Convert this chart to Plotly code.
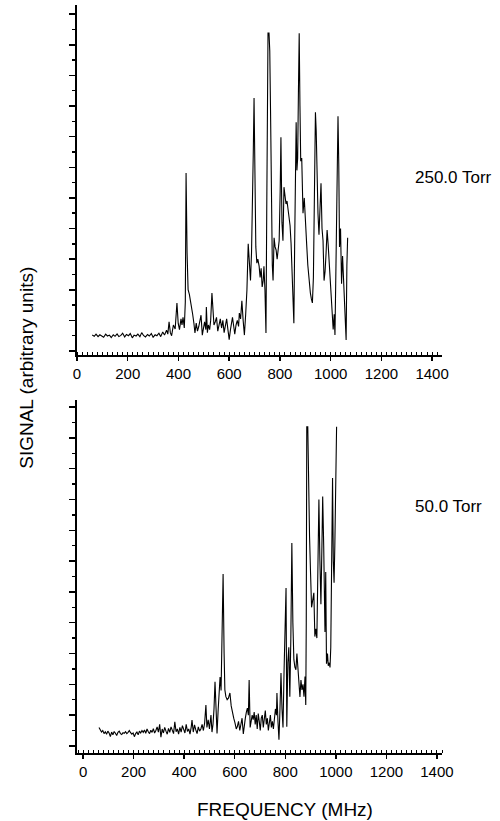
import plotly.graph_objects as go

# ---- Top panel: 250.0 Torr ----
freq_250 = [60, 68, 75, 83, 90, 98, 105, 113, 120, 128, 135, 143, 150, 158, 165, 173, 180, 188, 195, 203,
            210, 218, 225, 233, 240, 248, 255, 263, 270, 278, 285, 293, 300, 308, 315, 323, 330, 338, 345, 353,
            358, 363, 368, 373, 380, 387, 394, 399, 404, 410, 414, 418, 423, 427, 430, 434, 438, 443, 447, 451,
            456, 461, 465, 470, 475, 480, 485, 489, 494, 498, 503, 508, 510, 514, 518, 523, 527, 532, 536, 540,
            545, 550, 555, 560, 565, 570, 575, 580, 585, 590, 595, 600, 605, 610, 613, 618, 622, 627, 632, 637,
            640, 645, 650, 655, 660, 665, 670, 675, 680, 684, 688, 692, 695, 698, 701, 705, 709, 713, 718, 722,
            726, 730, 734, 737, 741, 745, 748, 751, 753, 757, 760, 763, 766, 770, 773, 777, 781, 785, 789, 793,
            797, 801, 804, 808, 812, 816, 820, 824, 828, 832, 836, 840, 844, 848, 852, 855, 858, 861, 864, 867,
            870, 873, 876, 879, 882, 886, 891, 896, 901, 906, 910, 914, 917, 920, 924, 928, 932, 936, 940, 943,
            946, 950, 954, 958, 962, 966, 970, 974, 978, 982, 986, 990, 994, 998, 1002, 1006, 1010, 1014, 1017, 1021,
            1025, 1029, 1032, 1035, 1039, 1043, 1047, 1050, 1054, 1058, 1061, 1064, 1067]
signal_250 = [0.52, 0.48, 0.55, 0.47, 0.53, 0.50, 0.45, 0.55, 0.49, 0.52, 0.44, 0.53, 0.48, 0.56, 0.47, 0.51, 0.58, 0.46, 0.54, 0.50,
              0.57, 0.43, 0.52, 0.49, 0.55, 0.47, 0.60, 0.50, 0.46, 0.54, 0.49, 0.57, 0.45, 0.53, 0.50, 0.58, 0.47, 0.62, 0.52, 0.68,
              0.55, 0.95, 0.60, 0.50, 0.85, 0.72, 1.57, 0.90, 0.70, 1.05, 0.85, 1.10, 0.75, 1.60, 5.81, 3.20, 2.00, 1.85, 1.65, 1.57,
              1.20, 0.90, 0.59, 0.91, 0.65, 0.80, 1.05, 1.17, 0.52, 0.75, 0.95, 0.70, 1.44, 0.60, 0.85, 0.70, 1.00, 1.89, 1.10, 0.85,
              0.95, 1.10, 0.65, 0.90, 1.05, 0.75, 1.00, 0.60, 0.85, 1.05, 0.70, 0.37, 0.70, 0.95, 1.10, 0.80, 0.55, 0.85, 1.00, 0.80,
              1.24, 1.05, 1.64, 1.00, 0.52, 1.20, 2.00, 3.50, 2.80, 2.30, 3.20, 4.60, 6.50, 8.26, 5.80, 3.40, 2.87, 3.00, 2.77, 2.40,
              2.70, 2.09, 2.30, 2.77, 2.00, 0.59, 4.50, 9.20, 10.38, 10.38, 9.80, 7.87, 4.50, 2.80, 2.30, 3.70, 3.40, 3.30, 3.00, 3.40,
              3.60, 5.20, 6.98, 4.20, 3.60, 5.35, 5.00, 4.80, 4.90, 4.60, 4.30, 4.10, 3.50, 2.60, 1.76, 0.91, 3.40, 5.80, 7.47, 5.90,
              6.30, 8.50, 10.38, 8.00, 6.20, 6.30, 4.50, 5.00, 3.90, 3.40, 2.80, 2.40, 2.00, 1.90, 1.70, 1.57, 2.40, 4.80, 7.80, 7.20,
              5.50, 4.50, 3.80, 4.60, 5.48, 4.00, 3.60, 2.30, 2.60, 3.20, 3.95, 3.50, 2.90, 2.40, 1.66, 1.20, 0.70, 1.20, 0.52, 2.80,
              5.60, 7.67, 6.10, 3.40, 4.00, 2.20, 3.10, 2.50, 1.90, 1.10, 0.36, 2.80, 3.70]

# ---- Bottom panel: 50.0 Torr ----
freq_50 = [63, 68, 73, 78, 83, 88, 93, 98, 103, 108, 113, 118, 123, 128, 133, 138, 143, 148, 153, 158,
           163, 168, 173, 178, 183, 188, 193, 198, 203, 208, 213, 218, 223, 228, 233, 238, 243, 248, 253, 258,
           263, 268, 273, 278, 283, 288, 293, 298, 303, 308, 313, 318, 323, 328, 333, 338, 343, 348, 353, 358,
           363, 368, 373, 378, 383, 388, 393, 398, 403, 408, 413, 418, 423, 428, 431, 436, 441, 446, 451, 456,
           461, 466, 471, 476, 481, 486, 490, 495, 500, 506, 510, 514, 518, 522, 526, 530, 534, 538, 542, 546,
           550, 554, 558, 561, 565, 570, 575, 581, 586, 591, 596, 601, 606, 610, 615, 620, 624, 629, 634, 638,
           642, 646, 650, 654, 657, 661, 665, 669, 673, 677, 681, 685, 689, 693, 697, 701, 705, 709, 713, 717,
           721, 725, 729, 733, 737, 741, 745, 749, 753, 757, 761, 765, 767, 771, 775, 779, 783, 787, 791, 795,
           799, 803, 806, 810, 814, 818, 822, 824, 826, 830, 834, 838, 842, 846, 850, 854, 858, 862, 866, 870,
           874, 878, 881, 883, 885, 889, 892, 896, 900, 904, 908, 913, 917, 921, 925, 929, 933, 937, 941, 945,
           948, 952, 955, 957, 960, 963, 967, 970, 974, 977, 980, 983, 987, 990, 993, 996, 999, 1003]
signal_50 = [0.60, 0.52, 0.45, 0.50, 0.40, 0.46, 0.38, 0.48, 0.42, 0.30, 0.45, 0.36, 0.47, 0.41, 0.34, 0.44, 0.48, 0.40, 0.37, 0.43,
             0.41, 0.46, 0.40, 0.44, 0.50, 0.43, 0.38, 0.42, 0.30, 0.40, 0.45, 0.36, 0.48, 0.42, 0.50, 0.44, 0.52, 0.41, 0.55, 0.46,
             0.40, 0.51, 0.44, 0.56, 0.42, 0.50, 0.62, 0.45, 0.70, 0.28, 0.55, 0.42, 0.60, 0.48, 0.38, 0.57, 0.44, 0.62, 0.50, 0.40,
             0.78, 0.46, 0.55, 0.38, 0.60, 0.45, 0.66, 0.50, 0.42, 0.70, 0.47, 0.55, 0.38, 0.62, 0.84, 0.45, 0.68, 0.52, 0.40, 0.62,
             0.48, 0.55, 0.70, 0.50, 0.75, 1.33, 0.60, 0.85, 0.55, 1.00, 0.45, 0.70, 1.20, 2.08, 0.80, 0.40, 1.10, 1.60, 2.24, 1.80,
             3.20, 5.58, 3.00, 1.82, 1.60, 1.50, 1.55, 1.72, 1.30, 1.05, 0.90, 0.75, 0.55, 0.62, 0.80, 0.50, 0.65, 0.90, 0.39, 0.75,
             0.90, 1.10, 1.23, 1.00, 2.14, 0.60, 0.80, 1.00, 0.85, 1.10, 0.70, 1.00, 0.55, 1.05, 0.80, 0.50, 0.90, 1.00, 0.60, 0.80,
             1.15, 0.70, 0.90, 0.50, 0.70, 1.00, 0.60, 0.80, 0.55, 0.90, 1.20, 1.00, 1.72, 0.80, 0.20, 1.20, 2.37, 1.20, 0.60, 2.37,
             3.50, 5.13, 0.62, 2.70, 3.20, 1.60, 3.50, 5.50, 6.59, 4.00, 2.80, 2.56, 2.47, 3.00, 2.60, 2.20, 1.59, 2.14, 1.82, 2.00,
             1.60, 2.25, 1.33, 4.00, 10.36, 10.36, 8.50, 6.80, 5.60, 4.50, 4.70, 4.97, 3.55, 3.80, 3.50, 5.50, 8.00, 6.00, 4.60, 6.50,
             8.10, 6.50, 4.50, 3.70, 5.65, 2.67, 3.00, 2.60, 2.70, 2.55, 3.20, 5.60, 8.70, 6.00, 5.30, 6.50, 8.80, 10.36]

x_tick_vals = [0, 200, 400, 600, 800, 1000, 1200, 1400]
x_tick_text = ["0", "200", "400", "600", "800", "1000", "1200", "1400"]
panel_labels = ["250.0 Torr", "50.0 Torr"]

FONT = "Liberation Sans, Arial, sans-serif"

fig = go.Figure()
fig.add_trace(go.Scatter(x=freq_250, y=signal_250, mode="lines",
                         line=dict(color="black", width=1.1), xaxis="x", yaxis="y", showlegend=False))
fig.add_trace(go.Scatter(x=freq_50, y=signal_50, mode="lines",
                         line=dict(color="black", width=1.1), xaxis="x2", yaxis="y2", showlegend=False))

xcommon = dict(showgrid=False, zeroline=False, showline=True, linecolor="black", linewidth=2,
               tickmode="array", tickvals=x_tick_vals, ticktext=x_tick_text,
               ticks="outside", ticklen=4, tickwidth=1.5, tickcolor="black",
               minor=dict(ticks="inside", ticklen=3, tickwidth=1, tickcolor="black", dtick=20, tick0=0),
               tickfont=dict(family=FONT, size=15, color="black"))
ycommon = dict(showgrid=False, zeroline=False, showline=True, linecolor="black", linewidth=2,
               showticklabels=False, ticks="outside", ticklen=6, tickwidth=1.5, tickcolor="black",
               tick0=0, dtick=1,
               minor=dict(ticks="outside", ticklen=3, tickwidth=1.5, tickcolor="black", dtick=0.5, tick0=0))

fig.update_layout(
    width=500, height=821,
    margin=dict(l=77, r=58, t=5, b=68),
    paper_bgcolor="white", plot_bgcolor="white",
    xaxis=dict(domain=[0, 1], anchor="y", range=[0, 1439], **xcommon),
    yaxis=dict(domain=[0.5321, 1], anchor="x", range=[-0.13, 11.3], **ycommon),
    xaxis2=dict(domain=[0, 1], anchor="y2", range=[-24, 1420], **xcommon),
    yaxis2=dict(domain=[0, 0.4719], anchor="x2", range=[-0.23, 11.23], **ycommon),
    font=dict(family=FONT, color="black"),
)

fig.add_annotation(text=panel_labels[0], xref="paper", yref="paper", x=0.9205, y=0.770,
                   xanchor="left", yanchor="middle", showarrow=False,
                   font=dict(family=FONT, size=17, color="black"))
fig.add_annotation(text=panel_labels[1], xref="paper", yref="paper", x=0.9205, y=0.329,
                   xanchor="left", yanchor="middle", showarrow=False,
                   font=dict(family=FONT, size=17, color="black"))
fig.add_annotation(text="SIGNAL (arbitrary units)", xref="paper", yref="paper", x=-0.137, y=0.515,
                   xanchor="center", yanchor="middle", textangle=-90, showarrow=False,
                   font=dict(family=FONT, size=19, color="black"))
fig.add_annotation(text="FREQUENCY (MHz)", xref="paper", yref="paper", x=0.570, y=-0.0749,
                   xanchor="center", yanchor="middle", showarrow=False,
                   font=dict(family=FONT, size=19, color="black"))

fig.write_html("out.html", config={"displayModeBar": False, "staticPlot": True},
               post_script="document.body.style.margin='0';document.body.style.padding='0';")
